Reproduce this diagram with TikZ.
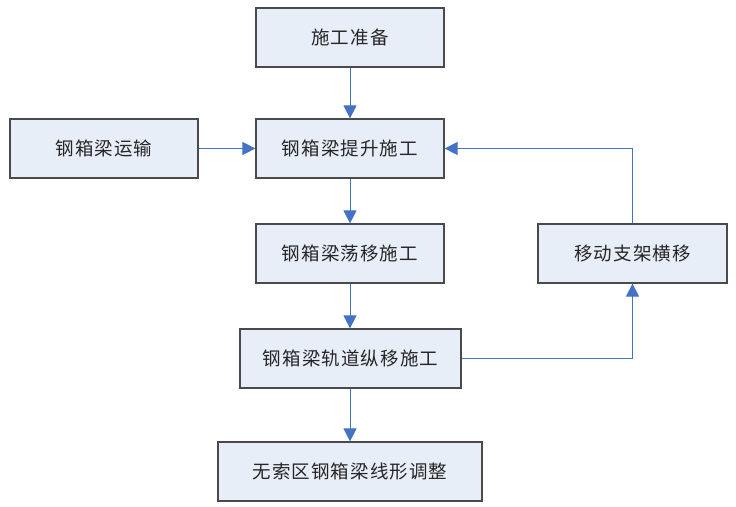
\documentclass[tikz,border=0pt]{standalone}
\usepackage{fontspec}
\newfontfamily\cjk[LetterSpace=6]{Noto Sans CJK SC}
\usetikzlibrary{arrows.meta}
\definecolor{boxfill}{HTML}{E8EEF8}
\definecolor{boxline}{HTML}{4A4A4A}
\definecolor{arrowc}{HTML}{4472C4}
\begin{document}
\begin{tikzpicture}[x=1pt,y=-1pt,
  stepbox/.style={draw=boxline,line width=1.2pt,fill=boxfill,inner sep=0pt,
    font=\cjk\fontsize{18.5}{22}\selectfont\color{black!85}},
  conn/.style={draw=arrowc,line width=1pt,-{Triangle[length=13pt,width=13pt]}}]
\useasboundingbox (0,0) rectangle (736,506);
\node[stepbox,minimum width=188pt,minimum height=59pt] (prep) at (350,37.5) {施工准备};
\node[stepbox,minimum width=188pt,minimum height=59pt] (trans) at (104,148.5) {钢箱梁运输};
\node[stepbox,minimum width=188pt,minimum height=59pt] (lift) at (350,148.5) {钢箱梁提升施工};
\node[stepbox,minimum width=188pt,minimum height=59pt] (swing) at (350,253.5) {钢箱梁荡移施工};
\node[stepbox,minimum width=189pt,minimum height=59pt] (move) at (632.5,253.5) {移动支架横移};
\node[stepbox,minimum width=221pt,minimum height=59pt] (rail) at (350.5,358.5) {钢箱梁轨道纵移施工};
\node[stepbox,minimum width=264pt,minimum height=59pt] (adj) at (350,471.5) {无索区钢箱梁线形调整};
\draw[conn] (prep) -- (lift);
\draw[conn] (trans) -- (lift);
\draw[conn] (lift) -- (swing);
\draw[conn] (swing.south) -- (rail.north -| swing.south);
\draw[conn] (rail.south -| swing.south) -- (adj.north -| swing.south);
\draw[conn] (rail.east) -| (move.south);
\draw[conn] (move.north) |- (lift.east);
\end{tikzpicture}
\end{document}
